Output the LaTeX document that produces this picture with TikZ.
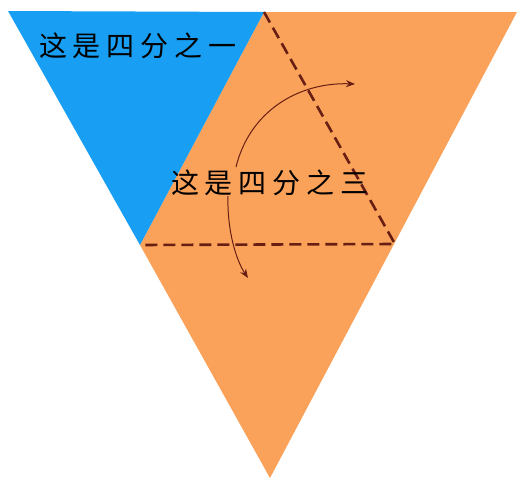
\documentclass[tikz,border=0pt]{standalone}
\usepackage{fontspec}
\newfontfamily\cjk{Noto Sans CJK SC}
\usetikzlibrary{arrows.meta}
\definecolor{blueA}{RGB}{24,158,242}
\definecolor{orangeA}{RGB}{250,162,90}
\definecolor{dashC}{RGB}{105,30,20}
\tikzset{
  fold/.style={draw=dashC, line width=2.6pt, dash pattern=on 12pt off 6pt},
  turn/.style={draw=dashC, line width=1pt, -{Stealth[length=9pt,width=7pt]}},
  lbl/.style={font=\cjk\fontsize{28}{30}\selectfont, text=black, inner sep=0pt}
}
\newcommand{\chsp}{\hspace{6pt}}
\begin{document}
\begin{tikzpicture}[x=1pt,y=-1pt]
\useasboundingbox (0,0) rectangle (520,485);
\coordinate (TL) at (8,11);
\coordinate (TM) at (264,12);
\coordinate (TR) at (517,12);
\coordinate (B) at (270,478);
\coordinate (ML) at (140,245);
\coordinate (MR) at (395,244);
\fill[orangeA] (TM) -- (TR) -- (B) -- (ML) -- cycle;
\fill[blueA] (TL) -- (TM) -- (ML) -- cycle;
\draw[fold] (TM) -- (MR) -- (ML);
\coordinate (a1) at (236,167);
\coordinate (a2) at (355,84);
\coordinate (b1) at (228,196);
\coordinate (b2) at (248,278);
\draw[turn] (a1) .. controls (250,110) and (300,82) .. (a2);
\draw[turn] (b1) .. controls (227,230) and (236,260) .. (b2);
\node[lbl] (t1) at (138,46) {这\chsp 是\chsp 四\chsp 分\chsp 之\chsp 一};
\node[lbl] (t2) at (270,183) {这\chsp 是\chsp 四\chsp 分\chsp 之\chsp 三};
\end{tikzpicture}
\end{document}
